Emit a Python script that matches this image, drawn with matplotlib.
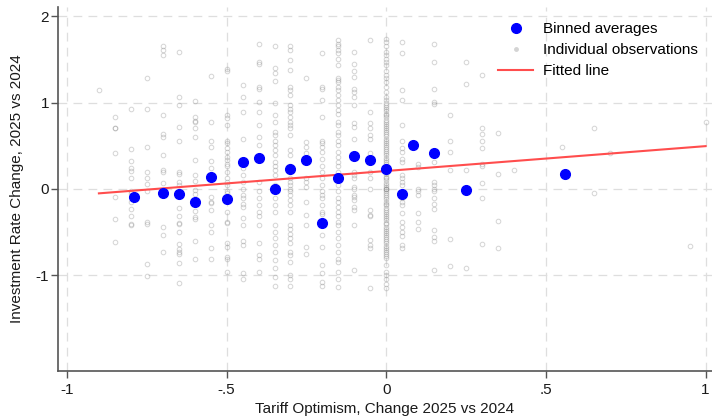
import matplotlib
matplotlib.use("Agg")
import matplotlib.pyplot as plt
from matplotlib.lines import Line2D

plt.rcParams['font.family'] = ['Liberation Sans', 'DejaVu Sans']

# ---- Binned averages ----
bin_x = [-0.79, -0.70, -0.65, -0.60, -0.55, -0.50, -0.45, -0.40, -0.35, -0.30,
         -0.25, -0.20, -0.15, -0.10, -0.05, 0.00, 0.05, 0.085, 0.15, 0.25, 0.56]
bin_y = [-0.09, -0.05, -0.06, -0.15, 0.14, -0.12, 0.31, 0.36, 0.00, 0.23,
         0.33, -0.40, 0.13, 0.38, 0.33, 0.23, -0.06, 0.51, 0.41, -0.01, 0.17]

# ---- Fitted line ----
fit_x = [-0.9, 1.0]
fit_intercept = 0.207
fit_slope = 0.288

# ---- Individual observations (x column, y values) ----
obs_x = [-0.90, -0.85, -0.80, -0.75, -0.70, -0.65, -0.60, -0.55, -0.50, -0.45,
         -0.40, -0.35, -0.30, -0.25, -0.20, -0.15, -0.10, -0.05, 0.00, 0.05,
         0.10, 0.15, 0.20, 0.25, 0.30, 0.35, 0.40, 0.55, 0.65, 0.70, 0.95, 1.00]
obs_y = [
    [1.14],
    [0.83, 0.70, 0.70, 0.41, -0.10, -0.35, -0.62],
    [0.92, 0.46, 0.32, 0.24, 0.21, 0.12, -0.02, -0.05, -0.15, -0.23, -0.32, -0.41, -0.42],
    [1.29, 0.92, 0.49, 0.20, 0.12, 0.06, -0.02, -0.38, -0.41, -0.87, -1.01],
    [1.66, 1.61, 1.55, 0.86, 0.64, 0.60, 0.39, 0.22, 0.20, 0.07, -0.05, -0.44, -0.53, -0.73],
    [1.58, 1.07, 0.97, 0.72, 0.55, 0.20, 0.17, 0.08, 0.05, -0.03, -0.22, -0.32, -0.39, -0.41,
     -0.50, -0.64, -0.70, -0.73, -0.76, -0.86, -1.09],
    [1.02, 0.83, 0.79, 0.77, 0.71, 0.60, 0.34, 0.16, 0.09, -0.01, -0.06, -0.14, -0.26, -0.33,
     -0.35, -0.61, -0.81],
    [1.31, 0.78, 0.56, 0.49, 0.32, 0.24, -0.09, -0.15, -0.16, -0.25, -0.42, -0.50, -0.68, -0.81],
    [1.39, 1.36, 0.86, 0.82, 0.74, 0.56, 0.53, 0.47, 0.43, 0.37, 0.33, 0.29, 0.26, 0.20, 0.12,
     0.08, 0.04, -0.02, -0.05, -0.27, -0.38, -0.40, -0.63, -0.67, -0.79, -0.81, -0.96],
    [1.20, 1.07, 0.89, 0.58, 0.31, 0.24, 0.16, 0.08, 0.00, -0.07, -0.11, -0.17, -0.21, -0.34,
     -0.42, -0.61, -0.65, -0.98, -1.04],
    [1.68, 1.47, 1.45, 1.18, 1.16, 1.01, 0.89, 0.74, 0.60, 0.51, 0.08, -0.03, -0.11, -0.19,
     -0.27, -0.32, -0.42, -0.63, -0.77, -0.81, -0.96],
    [1.66, 1.40, 1.34, 1.25, 0.99, 0.86, 0.78, 0.66, 0.62, 0.56, 0.51, 0.45, 0.39, 0.31, 0.26,
     0.22, 0.16, 0.04, -0.03, -0.11, -0.19, -0.27, -0.42, -0.50, -0.57, -0.65, -0.73, -0.83,
     -0.92, -1.02, -1.12],
    [1.66, 1.61, 1.49, 1.38, 1.18, 1.14, 1.09, 0.97, 0.93, 0.89, 0.83, 0.78, 0.74, 0.70, 0.62,
     0.45, 0.39, 0.27, 0.20, 0.12, 0.08, 0.04, 0.00, -0.03, -0.07, -0.13, -0.19, -0.27, -0.42,
     -0.46, -0.52, -0.57, -0.63, -0.73, -0.77, -0.85, -1.00, -1.04, -1.12],
    [1.29, 0.54, 0.49, 0.41, 0.12, 0.08, 0.02, -0.15, -0.30, -0.42, -0.67, -0.75],
    [1.57, 1.18, 1.16, 1.03, 0.83, 0.56, 0.53, 0.49, 0.43, 0.35, 0.27, 0.20, 0.12, 0.04, -0.03,
     -0.07, -0.11, -0.19, -0.27, -0.29, -0.54, -0.67, -0.88, -0.98, -1.08, -1.12],
    [1.72, 1.68, 1.65, 1.61, 1.57, 1.51, 1.43, 1.28, 1.26, 1.24, 1.18, 1.14, 1.09, 1.03, 0.97,
     0.91, 0.87, 0.78, 0.74, 0.66, 0.62, 0.56, 0.51, 0.43, 0.37, 0.31, 0.27, 0.20, 0.12, 0.04,
     -0.03, -0.11, -0.15, -0.21, -0.27, -0.32, -0.38, -0.42, -0.50, -0.57, -0.65, -0.73, -0.81,
     -0.85, -0.96, -1.04, -1.14],
    [1.59, 1.45, 1.37, 1.30, 1.16, 1.12, 1.07, 0.97, 0.76, 0.72, 0.58, 0.37, 0.20, 0.16, 0.12,
     0.02, 0.00, -0.07, -0.09, -0.13, -0.21, -0.25, -0.42, -0.94],
    [1.72, 0.89, 0.76, 0.70, 0.62, 0.58, 0.41, 0.35, 0.20, 0.12, 0.00, -0.25, -0.30, -0.32,
     -0.59, -0.65, -0.69, -1.15],
    [1.74, 1.70, 1.65, 1.59, 1.55, 1.51, 1.47, 1.43, 1.37, 1.32, 1.28, 1.24, 1.18, 1.12, 1.07,
     1.03, 1.00, 0.97, 0.95, 0.92, 0.90, 0.87, 0.85, 0.83, 0.80, 0.78, 0.75, 0.73, 0.70, 0.68,
     0.66, 0.63, 0.61, 0.58, 0.56, 0.53, 0.51, 0.48, 0.46, 0.44, 0.41, 0.39, 0.36, 0.34, 0.31,
     0.29, 0.27, 0.24, 0.22, 0.19, 0.17, 0.14, 0.12, 0.10, 0.07, 0.05, 0.02, 0.00, 0.00, 0.00,
     -0.02, -0.05, -0.07, -0.10, -0.12, -0.15, -0.17, -0.19, -0.22, -0.24, -0.27, -0.29, -0.32,
     -0.34, -0.36, -0.39, -0.41, -0.44, -0.46, -0.49, -0.51, -0.53, -0.56, -0.58, -0.61, -0.63,
     -0.66, -0.68, -0.71, -0.73, -0.76, -0.78, -0.80, -0.88, -0.96, -1.00, -1.04, -1.10, -1.15],
    [1.70, 1.57, 1.14, 1.03, 0.74, 0.56, 0.47, 0.43, 0.35, 0.31, 0.16, 0.12, 0.08, 0.04, -0.11,
     -0.15, -0.19, -0.28, -0.38, -0.44, -0.50, -0.55, -0.65, -0.69],
    [0.29, 0.25, 0.00, -0.03, -0.07, -0.28, -0.38, -0.47],
    [1.68, 1.47, 1.16, 1.01, 0.98, 0.41, 0.31, 0.08, 0.04, 0.00, -0.03, -0.11, -0.17, -0.23,
     -0.48, -0.56, -0.61, -0.94],
    [0.85, 0.55, 0.43, 0.22, -0.58, -0.89],
    [1.47, 1.21, 0.22, -0.92],
    [1.32, 0.70, 0.63, 0.56, 0.47, 0.29, 0.27, 0.07, -0.11, -0.64],
    [0.65, 0.17, -0.37, -0.68],
    [0.22],
    [0.48],
    [0.71, -0.05],
    [0.41],
    [-0.66],
    [0.77],
]

# ---- Axis ticks ----
x_ticks = [-1, -0.5, 0, 0.5, 1]
x_tick_labels = ["-1", "-.5", "0", ".5", "1"]
y_ticks = [-1, 0, 1, 2]
y_tick_labels = ["-1", "0", "1", "2"]

FS = 11
TXT = '#1a1a1a'

fig = plt.figure(figsize=(7.12, 4.17), dpi=100)
ax = fig.add_axes([0.0815, 0.110, 0.9185, 0.873])

for xv, ys in zip(obs_x, obs_y):
    ax.plot([xv] * len(ys), ys, linestyle='none', marker='o', markersize=3.3,
            markerfacecolor='none', markeredgecolor=(0.5, 0.5, 0.5, 0.32),
            markeredgewidth=0.75, zorder=2)

lx = fit_x
ly = [fit_intercept + fit_slope * v for v in fit_x]
ax.plot(lx, ly, color='#ff4d4d', linewidth=1.5, zorder=3)

ax.plot(bin_x, bin_y, linestyle='none', marker='o', markersize=7.0,
        color='#0000ff', zorder=4)

ax.set_xlim(-1.028, 1.02)
ax.set_ylim(-2.112, 2.106)
ax.set_xticks(x_ticks)
ax.set_xticklabels(x_tick_labels)
ax.set_yticks(y_ticks)
ax.set_yticklabels(y_tick_labels)
ax.grid(True, color='#dedede', linestyle=(0, (7, 5)), linewidth=0.9, zorder=0)
ax.set_axisbelow(True)
for s in ['top', 'right']:
    ax.spines[s].set_visible(False)
for s in ['left', 'bottom']:
    ax.spines[s].set_color('#555555')
    ax.spines[s].set_linewidth(1.2)
ax.tick_params(axis='both', direction='out', length=5, width=1.0, color='#555555',
               labelsize=FS, labelcolor=TXT)
ax.tick_params(axis='x', pad=3.5)
ax.tick_params(axis='y', pad=1.5)
ax.set_xlabel("Tariff Optimism, Change 2025 vs 2024", fontsize=FS, color=TXT)
ax.set_ylabel("Investment Rate Change, 2025 vs 2024", fontsize=FS, color=TXT)
ax.xaxis.set_label_coords(0.5, -0.0855)
ax.yaxis.set_label_coords(-0.0514, 0.5)

handles = [
    Line2D([], [], linestyle='none', marker='o', markersize=7.0, color='#0000ff'),
    Line2D([], [], linestyle='none', marker='o', markersize=2.5, color='#d4d4d4'),
    Line2D([], [], color='#ff4d4d', linewidth=1.5),
]
ax.legend(handles, ["Binned averages", "Individual observations", "Fitted line"],
          loc='upper left', bbox_to_anchor=(0.6728, 0.958), frameon=False, fontsize=FS,
          handlelength=2.3, handletextpad=0.65, labelspacing=0.46,
          borderpad=0, borderaxespad=0)

fig.savefig("out.png", dpi=100)
